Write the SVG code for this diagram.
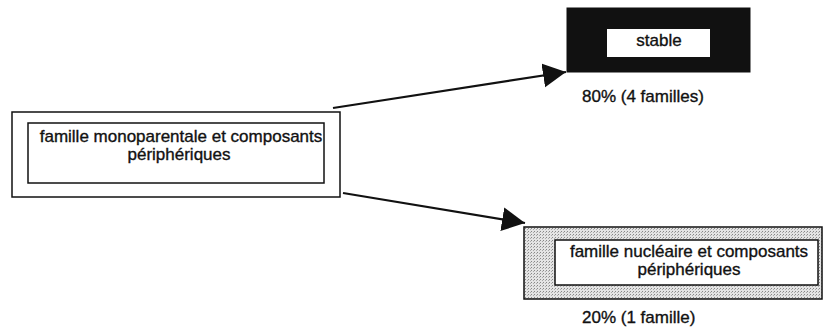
<svg xmlns="http://www.w3.org/2000/svg" width="823" height="333" viewBox="0 0 823 333">
<style>
  text { font-family: "Liberation Sans", Arial, sans-serif; font-size: 17px; fill: #111; stroke: #111; stroke-width: 0.35; }
  .c { text-anchor: middle; }
  .box { fill: #fff; stroke: #111; stroke-width: 1.5; }
  .conn { fill: none; stroke: #111; stroke-width: 2.2; }
</style>
<defs>
  <marker id="arrow" markerUnits="userSpaceOnUse" markerWidth="26" markerHeight="26" refX="23" refY="12" orient="auto">
    <path d="M0,0 L23,12 L0,24 z" fill="#111"/>
  </marker>
  <pattern id="stipple" width="3" height="3" patternUnits="userSpaceOnUse">
    <rect width="3" height="3" fill="#e4e4e4"/>
    <rect x="0" y="0" width="1" height="1" fill="#888"/>
    <rect x="2" y="1" width="1" height="1" fill="#aaa"/>
  </pattern>
</defs>
<rect width="823" height="333" fill="#fff"/>
<g id="connectors">
  <line class="conn" x1="333" y1="108" x2="566" y2="72" marker-end="url(#arrow)"/>
  <line class="conn" x1="343" y1="193" x2="525" y2="223" marker-end="url(#arrow)"/>
</g>
<g id="monoparentale">
  <rect class="box" x="12" y="112" width="328" height="85"/>
  <rect class="box" x="28" y="123" width="296" height="60"/>
  <text class="c" x="181" y="142">famille monoparentale et composants</text>
  <text class="c" x="179" y="160">périphériques</text>
</g>
<g id="stable">
  <rect x="567" y="8" width="183" height="64" fill="#111" stroke="#111"/>
  <rect x="607" y="29" width="103" height="28" fill="#fff"/>
  <text class="c" x="659" y="46">stable</text>
  <text x="582" y="102">80% (4 familles)</text>
</g>
<g id="nucleaire">
  <rect x="524" y="227" width="298" height="72" fill="url(#stipple)" stroke="#111" stroke-width="1.5"/>
  <rect class="box" x="555" y="240" width="263" height="45"/>
  <text class="c" x="689" y="257">famille nucléaire et composants</text>
  <text class="c" x="689" y="275">périphériques</text>
  <text x="582" y="323">20% (1 famille)</text>
</g>
</svg>
